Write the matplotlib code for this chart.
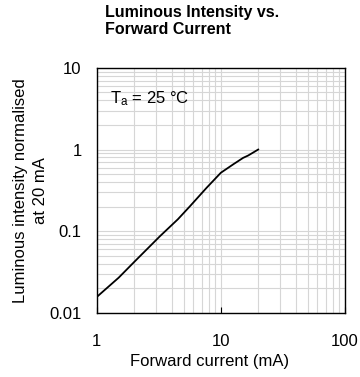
import matplotlib
matplotlib.use("Agg")
from matplotlib import pyplot as plt
from matplotlib.ticker import FixedLocator, NullFormatter

# forward current (mA) and normalised luminous intensity
current = [1.0, 1.5, 2.03, 3.23, 4.5, 5.63, 7.67, 10.0, 12.6, 15.1, 16.6, 20.0]
intensity = [0.0157, 0.027, 0.043, 0.087, 0.14, 0.202, 0.34, 0.52, 0.66, 0.79, 0.845, 1.0]

x_ticks = [1, 10, 100]
x_labels = ["1", "10", "100"]
y_ticks = [0.01, 0.1, 1, 10]
y_labels = ["0.01", "0.1", "1", "10"]

plt.rcParams['font.family'] = ['Liberation Sans', 'DejaVu Sans']
plt.rcParams['mathtext.default'] = 'regular'
fontsize = 12

fig = plt.figure(figsize=(3.6, 3.77), dpi=100)
ax = fig.add_axes([0.269, 0.170, 0.689, 0.650])

ax.set_xscale("log")
ax.set_yscale("log")
ax.set_xlim(1, 100)
ax.set_ylim(0.01, 10)

ax.yaxis.set_minor_locator(FixedLocator([m * 10 ** d for d in range(-2, 1) for m in range(2, 10)]))
ax.xaxis.set_minor_locator(FixedLocator([m * 10 ** d for d in range(0, 2) for m in range(2, 10)]))
ax.xaxis.set_minor_formatter(NullFormatter())
ax.yaxis.set_minor_formatter(NullFormatter())
ax.set_xticks(x_ticks, x_labels)
ax.set_yticks(y_ticks, y_labels)
ax.grid(True, which="both", color="#d6d6d6", linewidth=0.8)
ax.set_axisbelow(True)

ax.tick_params(axis="x", which="major", direction="in", length=4, pad=15, labelsize=fontsize)
ax.tick_params(axis="y", which="major", length=0, pad=11, labelsize=fontsize)
ax.tick_params(which="minor", length=0)
for sp in ax.spines.values():
    sp.set_linewidth(1.0)

ax.plot(current, intensity, color="black", linewidth=1.3)

ax.text(1.28, 4.2, "T$_a$ = 25 °C", fontsize=fontsize, va="center", ha="left")

ax.set_xlabel("Forward current (mA)", fontsize=fontsize, labelpad=4, x=0.456)
ax.set_ylabel("Luminous intensity normalised\nat 20 mA", fontsize=fontsize, labelpad=1,
              linespacing=1.4)

fig.text(0.292, 0.944, "Luminous Intensity vs.\nForward Current", fontsize=11.5,
         fontweight="bold", ha="left", va="center", linespacing=1.15)

plt.savefig("out.png", dpi=100)
